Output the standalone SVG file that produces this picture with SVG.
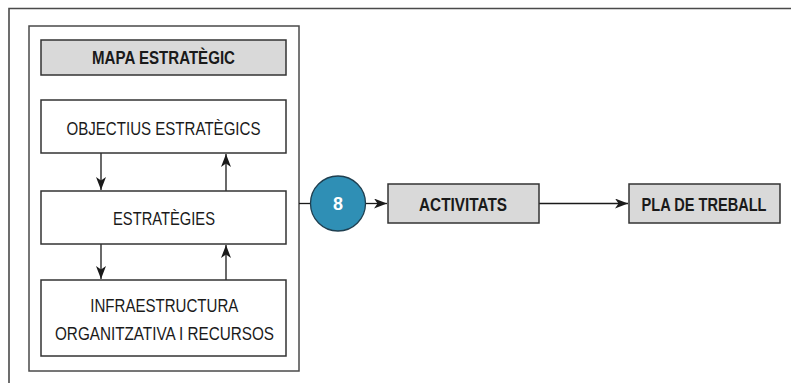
<svg xmlns="http://www.w3.org/2000/svg" width="791" height="383" viewBox="0 0 791 383">
<style>
.box{fill:#fff;stroke:#333;stroke-width:1.5}
.grey{fill:#d9d9d9;stroke:#333;stroke-width:1.5}
.t{font-family:"Liberation Sans",Arial,sans-serif;font-size:17.5px;fill:#1a1a1a;text-anchor:middle}
.b{font-weight:bold}
.c{stroke:#1a1a1a;stroke-width:1.3;fill:none}
</style>
<defs>
<marker id="ah" markerUnits="userSpaceOnUse" markerWidth="14" markerHeight="10" refX="13" refY="5" orient="auto">
<path d="M0,0 L13,5 L0,10 L3.5,5 z" fill="#1a1a1a"/>
</marker>
</defs>
<rect width="791" height="383" fill="#fff"/>
<path d="M9,383 V8.5 H791" fill="none" stroke="#4a4a4a" stroke-width="1.6"/>
<rect x="29" y="26" width="270" height="345" fill="#fff" stroke="#4a4a4a" stroke-width="1.5"/>
<g id="connectors">
<line class="c" x1="101" y1="153" x2="101" y2="190" marker-end="url(#ah)"/>
<line class="c" x1="226" y1="191" x2="226" y2="154" marker-end="url(#ah)"/>
<line class="c" x1="101" y1="244" x2="101" y2="279" marker-end="url(#ah)"/>
<line class="c" x1="226" y1="280" x2="226" y2="245" marker-end="url(#ah)"/>
<line class="c" x1="299" y1="203.5" x2="310" y2="203.5"/>
<line class="c" x1="365" y1="203.5" x2="387" y2="203.5" marker-end="url(#ah)"/>
<line class="c" x1="539" y1="203.5" x2="628" y2="203.5" marker-end="url(#ah)"/>
</g>
<g id="mapa">
<rect class="grey" x="41" y="40" width="245" height="35"/>
<text class="t b" x="163.5" y="64" textLength="143" lengthAdjust="spacingAndGlyphs">MAPA ESTRATÈGIC</text>
</g>
<g id="objectius">
<rect class="box" x="41" y="100" width="245" height="53"/>
<text class="t" x="163.5" y="135" font-size="18" textLength="194" lengthAdjust="spacingAndGlyphs">OBJECTIUS ESTRATÈGICS</text>
</g>
<g id="estrategies">
<rect class="box" x="41" y="191" width="245" height="53"/>
<text class="t" x="164" y="225" font-size="18" textLength="102" lengthAdjust="spacingAndGlyphs">ESTRATÈGIES</text>
</g>
<g id="infra">
<rect class="box" x="41" y="280" width="245" height="76"/>
<text class="t" x="164.3" y="311.5" font-size="18" textLength="148" lengthAdjust="spacingAndGlyphs">INFRAESTRUCTURA</text>
<text class="t" x="164.5" y="340" font-size="18" textLength="219" lengthAdjust="spacingAndGlyphs">ORGANITZATIVA I RECURSOS</text>
</g>
<g id="n8">
<circle cx="338" cy="203.5" r="27.5" fill="#2f8fb5" stroke="#1f3f50" stroke-width="1.3"/>
<text class="t b" x="338" y="209.5" font-size="21" fill="#fff" style="fill:#fff" textLength="10" lengthAdjust="spacingAndGlyphs">8</text>
</g>
<g id="activitats">
<rect class="grey" x="388" y="184" width="151" height="39"/>
<text class="t b" x="463" y="211" textLength="88" lengthAdjust="spacingAndGlyphs">ACTIVITATS</text>
</g>
<g id="pla">
<rect class="grey" x="629" y="184" width="151" height="39"/>
<text class="t b" x="704" y="211" textLength="125" lengthAdjust="spacingAndGlyphs">PLA DE TREBALL</text>
</g>
</svg>
